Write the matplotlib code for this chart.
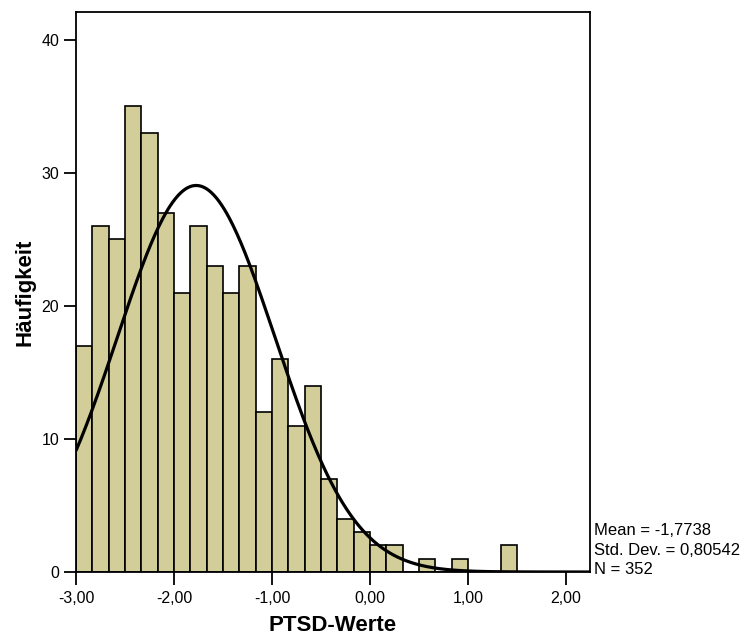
import numpy as np
import matplotlib
matplotlib.use('Agg')
from matplotlib import pyplot as plt

plt.rcParams['font.family'] = ['Liberation Sans', 'DejaVu Sans']

# histogram counts, bins of width 1/6 starting at -3,00
counts = [17, 26, 25, 35, 33, 27, 21, 26, 23, 21, 23, 12, 16, 11, 14,
          7, 4, 3, 2, 2, 0, 1, 0, 1, 0, 0, 2]
bin_start = -3.0
bin_width = 1 / 6
mean, sd, n = -1.7738, 0.80542, 352
xticks = [-3, -2, -1, 0, 1, 2]
xticklabels = ['-3,00', '-2,00', '-1,00', '0,00', '1,00', '2,00']
yticks = [0, 10, 20, 30, 40]

fig = plt.figure(figsize=(7.45, 6.37), dpi=100)
ax = fig.add_axes([76 / 745, 65 / 637, 514 / 745, 560 / 637])

left = bin_start + np.arange(len(counts)) * bin_width
ax.bar(left, counts, width=bin_width, align='edge', color='#d3ce99',
       edgecolor='black', linewidth=1.2, zorder=2)

# fitted normal curve
xs = np.linspace(-3.0, 2.25, 400)
ys = n * bin_width * np.exp(-0.5 * ((xs - mean) / sd) ** 2) / (sd * np.sqrt(2 * np.pi))
ax.plot(xs, ys, color='black', linewidth=2.3, zorder=3, solid_capstyle='butt')

ax.set_xlim(-3.0, 2.245)
ax.set_ylim(0, 42.1)
ax.set_xticks(xticks)
ax.set_xticklabels(xticklabels)
ax.set_yticks(yticks)
ax.tick_params(direction='out', length=9, width=1.3, labelsize=11.5, pad=3)
ax.tick_params(axis='x', pad=5)
for s in ax.spines.values():
    s.set_linewidth(1.3)

ax.set_xlabel('PTSD-Werte', fontsize=16, fontweight='bold', labelpad=6)
ax.set_ylabel('Häufigkeit', fontsize=16, fontweight='bold', labelpad=4)

fig.text(594 / 745, (637 - 577) / 637,
         'Mean = -1,7738\nStd. Dev. = 0,80542\nN = 352',
         fontsize=12, ha='left', va='bottom', linespacing=1.37)

fig.savefig('out.png', dpi=100)
